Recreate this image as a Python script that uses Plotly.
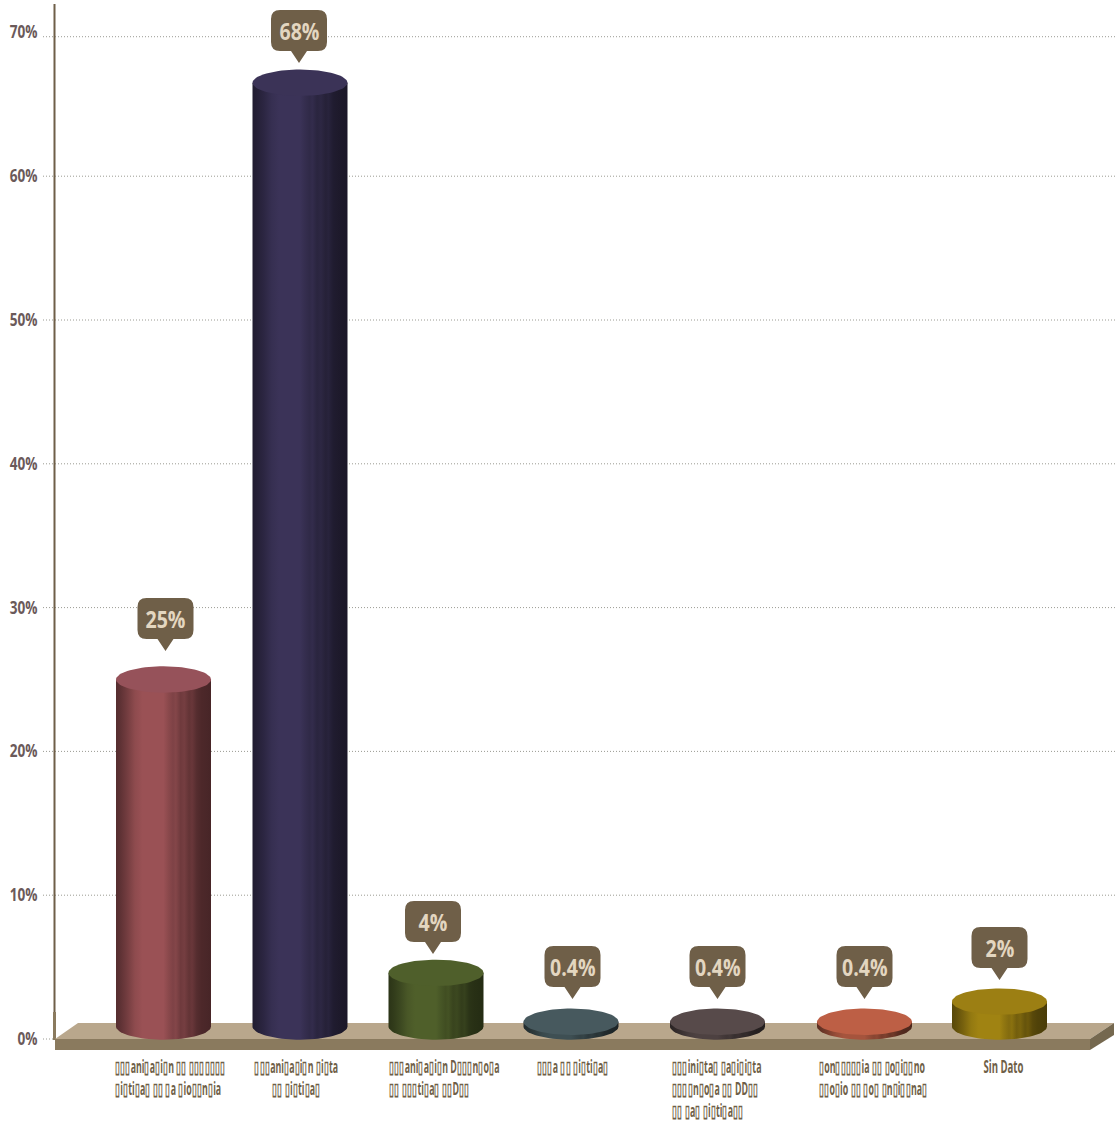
import plotly.graph_objects as go
import math

# --- data ---
categories = [
    "▯▯▯ani▯a▯i▯n ▯▯ ▯▯▯▯▯▯▯<br>▯i▯ti▯a▯ ▯▯ ▯a ▯io▯▯n▯ia",
    "▯▯▯ani▯a▯i▯n ▯i▯ta<br>▯▯ ▯i▯ti▯a▯",
    "▯▯▯ani▯a▯i▯n D▯▯▯n▯o▯a<br>▯▯ ▯▯▯ti▯a▯ ▯▯D▯▯",
    "▯▯▯a ▯▯ ▯i▯ti▯a▯",
    "▯▯▯ini▯ta▯ ▯a▯i▯i▯ta<br>▯▯▯▯n▯o▯a ▯▯ DD▯▯<br>▯▯ ▯a▯ ▯i▯ti▯a▯▯",
    "▯on▯▯▯▯▯ia ▯▯ ▯o▯i▯▯no<br>▯▯o▯io ▯▯ ▯o▯ ▯n▯i▯▯na▯",
    "Sin Dato",
]
value_labels = ["25%", "68%", "4%", "0.4%", "0.4%", "0.4%", "2%"]
drawn_tops = [25.0, 66.5, 4.6, 1.2, 1.2, 1.2, 2.6]
y_ticks = [0, 10, 20, 30, 40, 50, 60, 70]
y_tick_text = ["0%", "10%", "20%", "30%", "40%", "50%", "60%", "70%"]
grid_levels = [10, 20, 30, 40, 50, 60, 69.7]

# --- styles / layout constants ---
W, H = 1117, 1124
PX_PER_UNIT = 14.38
Y0_PX = 1039
def yv(px):
    return (Y0_PX - px) / PX_PER_UNIT

centers = [163.5, 300, 436, 571, 717.5, 864.5, 999.5]
label_x = [113, 296.5, 387, 535, 670, 817, 1003]
label_anchor = ["left", "center", "left", "left", "left", "left", "center"]
callout_x = [165.5, 299, 433, 572.5, 717.5, 864.5, 999.5]
callout_tip_px = [651, 63, 954, 999, 999, 999, 980]
base_level = yv(1026.5)
RX, RY = 47.5, 13.2 / PX_PER_UNIT

tops = ["#96525a", "#3b3357", "#4f5f2b", "#47595e", "#574a4a", "#bd5f45", "#9c7f13"]
body_bright = ["#9a5155", "#3b3358", "#4f5f2a", "#3e4f53", "#4d4141", "#a5543d", "#a08312"]
SHADES = [(0, .55), (.05, .62), (.12, .75), (.2, .92), (.28, 1), (.5, 1), (.55, .9), (.6, .82),
          (.63, .86), (.68, .72), (.72, .76), (.77, .64), (.8, .68), (.85, .55), (.9, .5), (1, .46)]

def shade(hexcol, f):
    r, g, b = (int(hexcol[i:i + 2], 16) for i in (1, 3, 5))
    return f"rgb({r*f:.0f},{g*f:.0f},{b*f:.0f})"

BROWN = "#6f5f48"
FONT = "Open Sans, sans-serif"

fig = go.Figure()

# cylinders, built from the value scale
for cx, top, col_top, bright in zip(centers, drawn_tops, tops, body_bright):
    n = 40
    xs, ys = [cx - RX, cx + RX], [top, top]
    for i in range(n + 1):           # bottom rim, right to left
        a = 2 * math.pi - math.pi * i / n
        xs.append(cx + RX * math.cos(a)); ys.append(base_level + RY * math.sin(a))
    fig.add_trace(go.Scatter(
        x=xs, y=ys, mode="lines", line=dict(width=0), fill="toself",
        fillgradient=dict(type="horizontal",
                          colorscale=[[s, shade(bright, f)] for s, f in SHADES]),
        hoverinfo="skip", showlegend=False))
    ex = [cx + RX * math.cos(2 * math.pi * i / 80) for i in range(81)]
    ey = [top + RY * math.sin(2 * math.pi * i / 80) for i in range(81)]
    fig.add_trace(go.Scatter(x=ex, y=ey, mode="lines", line=dict(width=0),
                             fill="toself", fillcolor=col_top,
                             hoverinfo="skip", showlegend=False))

shapes = []
# dotted grid
for g in grid_levels:
    shapes.append(dict(type="line", xref="paper", yref="y", x0=43 / W, x1=1,
                       y0=g, y1=g, layer="below",
                       line=dict(color="#9a9a92", width=1, dash="1px,2px")))
shapes.append(dict(type="line", xref="paper", yref="y", x0=43 / W, x1=55 / W,
                   y0=0, y1=0, layer="below",
                   line=dict(color="#9a9a92", width=1, dash="1px,2px")))
# axis spine
shapes.append(dict(type="line", xref="paper", yref="y", x0=54.5 / W, x1=54.5 / W,
                   y0=yv(4), y1=yv(1014),
                   layer="below", line=dict(color=BROWN, width=2)))
shapes.append(dict(type="line", xref="paper", yref="y", x0=54.5 / W, x1=54.5 / W,
                   y0=yv(1012), y1=yv(1040),
                   layer="below", line=dict(color="#8a7a5e", width=3)))

def poly(points):
    return "M " + " L ".join(f"{x},{yv(p)}" for x, p in points) + " Z"

# floor slab
shapes_below = [
    (poly([(55, 1039), (78, 1023), (1114, 1023), (1090, 1039)]), "#b9a78c"),
    (poly([(55, 1039), (1090, 1039), (1090, 1050), (55, 1050)]), "#8a7a5e"),
    (poly([(1090, 1039), (1114, 1023), (1114, 1035), (1090, 1050)]), "#75684f"),
]
for p, c in shapes_below:
    shapes.append(dict(type="path", path=p, xref="x", yref="y", layer="below",
                       fillcolor=c, line=dict(width=0)))

# callouts
annotations = []
for cx, tip, lab in zip(callout_x, callout_tip_px, value_labels):
    bot, t = tip - 12, tip - 53
    hw, r = 28, 9
    path = (f"M {cx-hw+r},{yv(t)} L {cx+hw-r},{yv(t)} "
            f"Q {cx+hw},{yv(t)} {cx+hw},{yv(t+r)} L {cx+hw},{yv(bot-r)} "
            f"Q {cx+hw},{yv(bot)} {cx+hw-r},{yv(bot)} L {cx+8},{yv(bot)} L {cx},{yv(tip)} "
            f"L {cx-8},{yv(bot)} L {cx-hw+r},{yv(bot)} "
            f"Q {cx-hw},{yv(bot)} {cx-hw},{yv(bot-r)} L {cx-hw},{yv(t+r)} "
            f"Q {cx-hw},{yv(t)} {cx-hw+r},{yv(t)} Z")
    shapes.append(dict(type="path", path=path, xref="x", yref="y", layer="above",
                       fillcolor=BROWN, line=dict(width=0)))
    annotations.append(dict(x=cx, y=yv(t + 21), xref="x", yref="y", text=lab, showarrow=False,
                            xanchor="center", yanchor="middle",
                            font=dict(family=FONT, size=23, color="#e3d6c0", weight="bold")))

# category labels
for x, anc, text in zip(label_x, label_anchor, categories):
    annotations.append(dict(x=x, y=yv(1053), xref="x", yref="y", text=text, showarrow=False,
                            xanchor=anc, yanchor="top", align=anc,
                            font=dict(family=FONT, size=17, color="#6f5f48", weight="bold")))

fig.update_layout(
    width=W, height=H, margin=dict(l=0, r=0, t=0, b=0),
    paper_bgcolor="white", plot_bgcolor="rgba(0,0,0,0)", showlegend=False,
    xaxis=dict(domain=[55 / W, 1], range=[55, W], showgrid=False, zeroline=False,
               showticklabels=False, ticks="", fixedrange=True),
    yaxis=dict(range=[yv(H), yv(0)], tickmode="array", tickvals=y_ticks, ticktext=y_tick_text,
               showgrid=False, zeroline=False, showline=False, ticks="outside", ticklen=13,
               tickcolor="rgba(0,0,0,0)",
               tickfont=dict(family=FONT, size=17, color="#6b5a5a", weight="bold")),
    shapes=shapes, annotations=annotations,
)

# The reference's lettering is horizontally squeezed: narrow the real text elements in place.
post = """
document.body.style.margin='0';document.body.style.overflow='hidden';
function sq(el,s,o){el.style.transformBox='fill-box';el.style.transformOrigin=o+' center';el.style.transform='scaleX('+s+')';}
document.querySelectorAll('.ytick text').forEach(function(e){
  var x=parseFloat(e.getAttribute('x'))||0, t=e.getAttribute('transform')||'';
  e.setAttribute('transform',t+' translate('+x+',0) scale(0.8,1) translate('+(-x)+',0)');
});
var centered=['\\u25AF\\u25AF\\u25AFani\\u25AFa\\u25AFi\\u25AFn \\u25AFi\\u25AFta','Sin Dato'];
document.querySelectorAll('.annotation-text').forEach(function(e){
  var t=e.textContent;
  if(/^[0-9.]+%$/.test(t)){sq(e,0.85,'center');return;}
  var c=centered.some(function(p){return t.indexOf(p)===0;});
  sq(e,t==='Sin Dato'?0.565:0.52,c?'center':'left');
});
"""
fig.write_html("out.html", post_script=post, config=dict(displayModeBar=False))
